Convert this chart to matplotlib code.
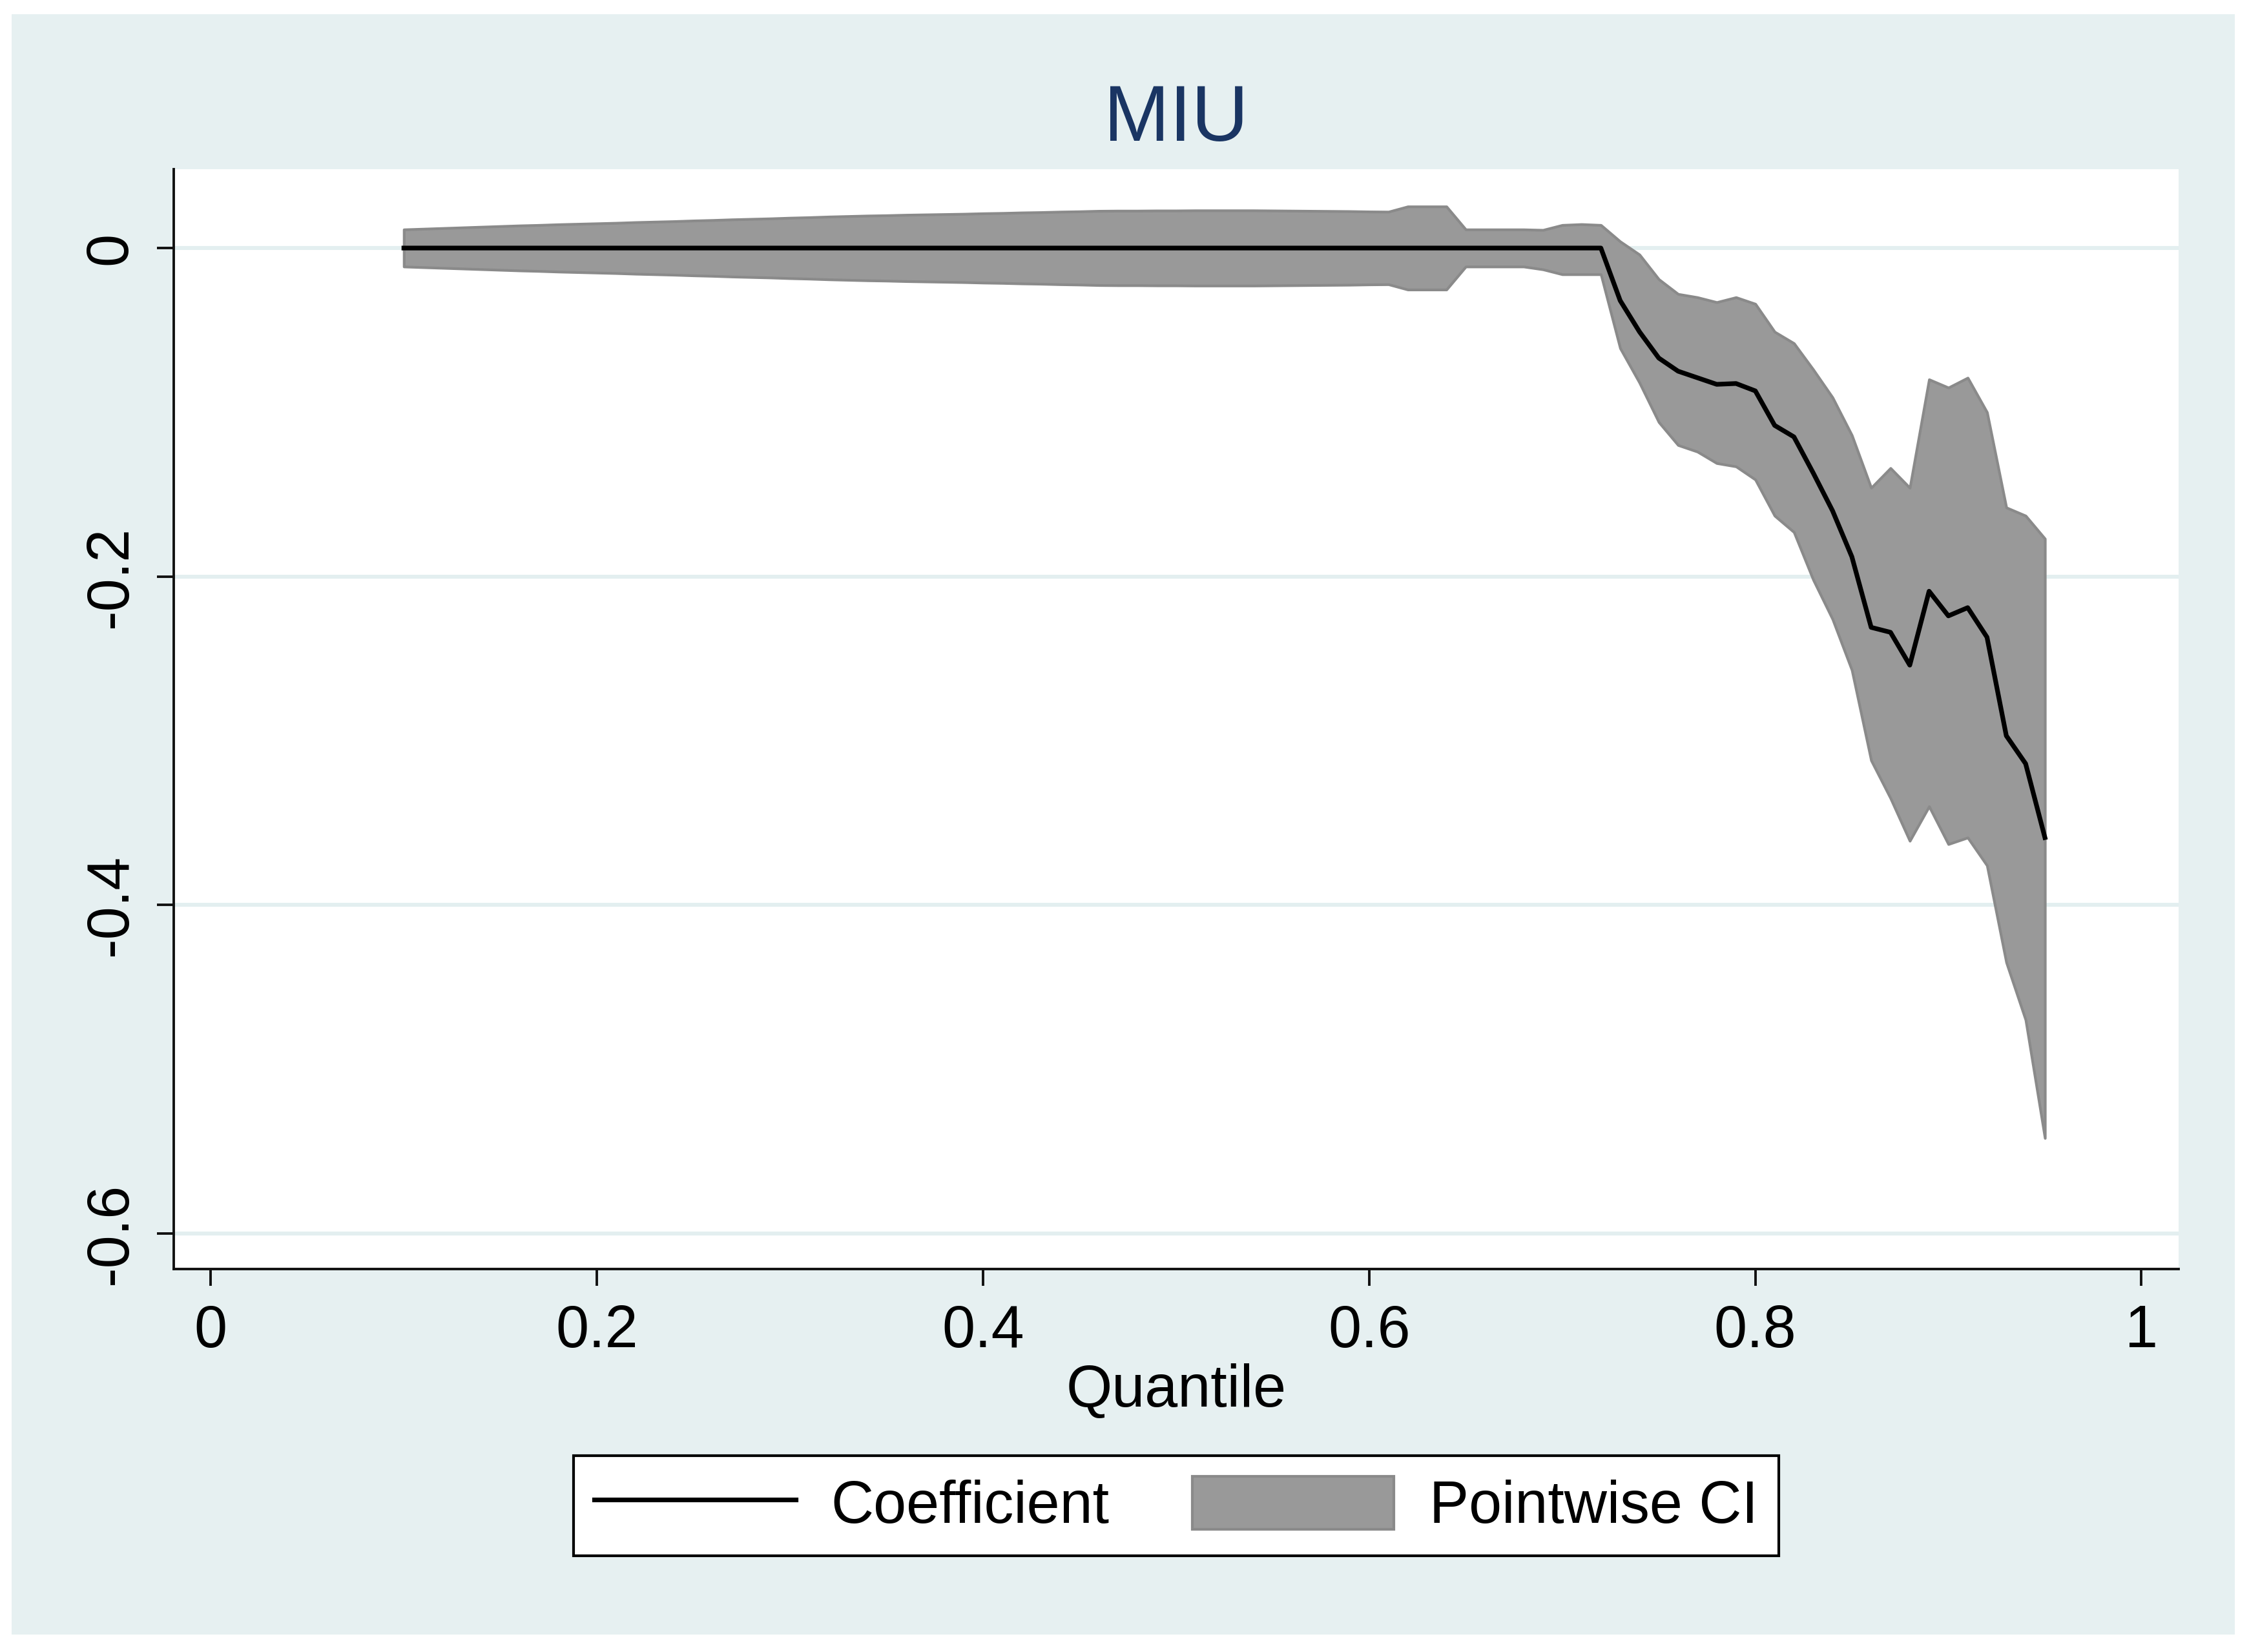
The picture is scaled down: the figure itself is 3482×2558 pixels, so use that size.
import numpy as np
import matplotlib.pyplot as plt

plt.rcParams['font.family'] = ['Liberation Sans', 'DejaVu Sans']

# quantiles 0.10 ... 0.95
quantile = np.round(np.arange(10, 96) / 100, 2)

coef = [
    0.0, 0.0, 0.0, 0.0, 0.0, 0.0, 0.0, 0.0, 0.0, 0.0,   # .10-.19
    0.0, 0.0, 0.0, 0.0, 0.0, 0.0, 0.0, 0.0, 0.0, 0.0,   # .20-.29
    0.0, 0.0, 0.0, 0.0, 0.0, 0.0, 0.0, 0.0, 0.0, 0.0,   # .30-.39
    0.0, 0.0, 0.0, 0.0, 0.0, 0.0, 0.0, 0.0, 0.0, 0.0,   # .40-.49
    0.0, 0.0, 0.0, 0.0, 0.0, 0.0, 0.0, 0.0, 0.0, 0.0,   # .50-.59
    0.0, 0.0, 0.0, 0.0, 0.0, 0.0, 0.0, 0.0, 0.0, 0.0,   # .60-.69
    0.0, 0.0, 0.0, -0.032, -0.051, -0.067, -0.075, -0.079, -0.083, -0.0825,  # .70-.79
    -0.087, -0.108, -0.115, -0.137, -0.160, -0.188, -0.231, -0.234, -0.254, -0.209,  # .80-.89
    -0.224, -0.219, -0.237, -0.297, -0.314, -0.359,  # .90-.95
]

ci_upper = [
    0.0113, 0.0117, 0.0121, 0.0125, 0.0129, 0.0133, 0.0137, 0.0140, 0.0144, 0.0147,
    0.0150, 0.0153, 0.0157, 0.0160, 0.0163, 0.0167, 0.0170, 0.0174, 0.0177, 0.0180,
    0.0184, 0.0187, 0.0191, 0.0194, 0.0197, 0.0199, 0.0202, 0.0204, 0.0206, 0.0208,
    0.0211, 0.0213, 0.0216, 0.0218, 0.0221, 0.0223, 0.0226, 0.0227, 0.0227, 0.0228,
    0.0228, 0.0229, 0.0229, 0.0229, 0.0229, 0.0228, 0.0227, 0.0226, 0.0225, 0.0224,
    0.0222, 0.0221, 0.0253, 0.0253, 0.0253, 0.0113, 0.0113, 0.0113, 0.0113, 0.0110,
    0.0140, 0.0145, 0.0140, 0.004, -0.004, -0.019, -0.028, -0.030, -0.033, -0.030,
    -0.034, -0.051, -0.058, -0.074, -0.091, -0.114, -0.146, -0.134, -0.146, -0.080,
    -0.085, -0.079, -0.100, -0.158, -0.163, -0.177,
]

ci_lower = [
    -0.0113, -0.0117, -0.0121, -0.0125, -0.0129, -0.0133, -0.0137, -0.0140, -0.0144, -0.0147,
    -0.0150, -0.0153, -0.0157, -0.0160, -0.0163, -0.0167, -0.0170, -0.0174, -0.0177, -0.0180,
    -0.0184, -0.0187, -0.0191, -0.0194, -0.0197, -0.0199, -0.0202, -0.0204, -0.0206, -0.0208,
    -0.0211, -0.0213, -0.0216, -0.0218, -0.0221, -0.0223, -0.0226, -0.0227, -0.0227, -0.0228,
    -0.0228, -0.0229, -0.0229, -0.0229, -0.0229, -0.0228, -0.0227, -0.0226, -0.0225, -0.0224,
    -0.0222, -0.0221, -0.0253, -0.0253, -0.0253, -0.0113, -0.0113, -0.0113, -0.0113, -0.0130,
    -0.0160, -0.0160, -0.0160, -0.061, -0.082, -0.106, -0.120, -0.124, -0.131, -0.133,
    -0.141, -0.163, -0.173, -0.202, -0.226, -0.257, -0.312, -0.335, -0.361, -0.340,
    -0.363, -0.359, -0.376, -0.435, -0.470, -0.542,
]

xticks = [0, 0.2, 0.4, 0.6, 0.8, 1]
xticklabels = ['0', '0.2', '0.4', '0.6', '0.8', '1']
yticks = [0, -0.2, -0.4, -0.6]
yticklabels = ['0', '-0.2', '-0.4', '-0.6']

W, H = 3482, 2558
fig = plt.figure(figsize=(W / 200, H / 200), dpi=200, facecolor='white')

# stata style light panel behind everything
panel = plt.Rectangle((18 / W, 27 / H), 1 - 40 / W, 1 - 49 / H,
                      transform=fig.transFigure, facecolor='#e6f0f1',
                      edgecolor='none', zorder=-5)
fig.patches.append(panel)

ax = fig.add_axes([121 / 1568, 1 - 885 / 1152, (1519 - 121) / 1568, (885 - 118) / 1152])
ax.set_zorder(1)
ax.set_facecolor('white')

ax.fill_between(quantile, ci_lower, ci_upper, facecolor='#999999',
                edgecolor='#8a8a8a', linewidth=1.5, zorder=2, label='Pointwise CI')
ax.plot(quantile, coef, color='black', linewidth=2.6, zorder=3, label='Coefficient')

ax.set_xlim(-0.0193, 1.0193)
ax.set_ylim(-0.6218, 0.048)

ax.set_yticks(yticks)
ax.set_yticklabels(yticklabels, rotation=90, va='center')
ax.set_xticks(xticks)
ax.set_xticklabels(xticklabels)
ax.grid(axis='y', color='#e3eff0', linewidth=2.2, zorder=1)
ax.set_axisbelow(True)

for s in ['top', 'right']:
    ax.spines[s].set_visible(False)
for s in ['left', 'bottom']:
    ax.spines[s].set_linewidth(1.4)
    ax.spines[s].set_color('#111111')

ax.tick_params(axis='both', direction='out', length=9.5, width=1.4,
               labelsize=33, color='#111111')
ax.tick_params(axis='x', pad=10)
ax.tick_params(axis='y', pad=10)

ax.set_xlabel('Quantile', fontsize=33, labelpad=2)
ax.set_title('MIU', fontsize=44, color='#1a3563', pad=16)

h, l = ax.get_legend_handles_labels()
leg = fig.legend([h[1], h[0]], [l[1], l[0]], loc='center',
                 bbox_to_anchor=(820 / 1568, 1 - 1050 / 1152), ncol=2,
                 fontsize=33, frameon=True, fancybox=False, edgecolor='black',
                 facecolor='white', framealpha=1,
                 handlelength=3.4, handleheight=1.0, handletextpad=0.6,
                 columnspacing=1.4, borderpad=0.35)
leg.get_frame().set_linewidth(1.5)

fig.savefig('out.png', dpi=200, facecolor='white')
